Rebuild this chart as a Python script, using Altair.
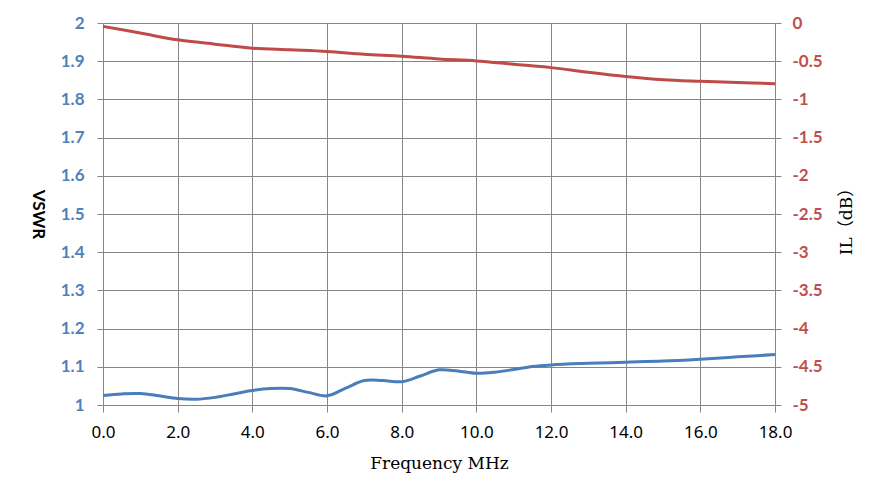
import altair as alt
import pandas as pd

# VSWR (left axis)
vswr_freq = [0, 0.5, 1, 1.5, 2, 2.5, 3, 3.5, 4, 4.5, 5, 5.5, 6, 6.5, 7, 7.5, 8, 8.5, 9,
             9.5, 10, 10.5, 11, 11.5, 12, 13, 14, 15, 16, 17, 18]
vswr_vals = [1.025, 1.029, 1.030, 1.024, 1.017, 1.015, 1.020, 1.029, 1.038, 1.043, 1.043,
             1.033, 1.024, 1.044, 1.064, 1.064, 1.061, 1.076, 1.092,
             1.089, 1.083, 1.086, 1.093, 1.101, 1.105, 1.109, 1.112, 1.115, 1.120, 1.126, 1.132]

# Insertion loss (right axis)
il_freq = list(range(0, 19))
il_vals = [-0.044, -0.132, -0.220, -0.277, -0.329, -0.351, -0.373, -0.408, -0.434, -0.470,
           -0.496, -0.540, -0.584, -0.645, -0.700, -0.742, -0.763, -0.780, -0.794]

x_ticks = [0, 2, 4, 6, 8, 10, 12, 14, 16, 18]
left_ticks = [1, 1.1, 1.2, 1.3, 1.4, 1.5, 1.6, 1.7, 1.8, 1.9, 2]
right_ticks = [0, -0.5, -1, -1.5, -2, -2.5, -3, -3.5, -4, -4.5, -5]

df_v = pd.DataFrame({"f": vswr_freq, "v": vswr_vals})
df_il = pd.DataFrame({"f": il_freq, "il": il_vals})

GRID = "#868686"
BLUE = "#4A7EBB"
RED = "#BE4B48"

x_enc = alt.X(
    "f:Q",
    scale=alt.Scale(domain=[0, 18], nice=False, zero=False),
    axis=alt.Axis(
        title="Frequency MHz",
        values=x_ticks,
        format=".1f",
        grid=True,
        gridColor=GRID,
        gridOpacity=1,
        domain=False,
        tickColor=GRID,
        tickSize=7,
        labelFlush=False,
        labelPadding=12,
        labelFont="Noto Sans",
        labelFontSize=17,
        labelColor="#000000",
        titleFont="DejaVu Serif",
        titleFontSize=17,
        titleFontWeight="normal",
        titleColor="#000000",
        titlePadding=15,
    ),
)

vswr = alt.Chart(df_v).mark_line(
    color=BLUE, strokeWidth=3, interpolate="catmull-rom"
).encode(
    x=x_enc,
    y=alt.Y(
        "v:Q",
        scale=alt.Scale(domain=[1, 2], nice=False, zero=False),
        axis=alt.Axis(
            title="VSWR",
            orient="left",
            values=left_ticks,
            labelExpr="'' + datum.value",
            grid=True,
            gridColor=GRID,
            gridOpacity=1,
            domain=False,
            tickColor=GRID,
            tickSize=6,
            labelPadding=13,
            labelFont="Lato",
            labelFontWeight="bold",
            labelFontSize=17,
            labelColor="#4F81BD",
            titleFont="Lato",
            titleFontWeight="bold",
            titleFontSize=17,
            titleColor="#000000",
            titleAngle=90,
            titleAlign="center",
            titleBaseline="middle",
            titleX=-66,
            titleY=191,
        ),
    ),
)

il = alt.Chart(df_il).mark_line(
    color=RED, strokeWidth=3, interpolate="catmull-rom"
).encode(
    x=alt.X("f:Q", scale=alt.Scale(domain=[0, 18], nice=False, zero=False)),
    y=alt.Y(
        "il:Q",
        scale=alt.Scale(domain=[-5, 0], nice=False, zero=False),
        axis=alt.Axis(
            title="IL（dB）",
            orient="right",
            values=right_ticks,
            labelExpr="'' + datum.value",
            grid=False,
            domain=False,
            tickColor=GRID,
            tickSize=6,
            labelPadding=11,
            labelFont="Lato",
            labelFontWeight="bold",
            labelFontSize=17,
            labelColor="#C0504D",
            titleFont="DejaVu Serif, Noto Sans CJK SC",
            titleFontWeight="normal",
            titleFontSize=17,
            titleColor="#000000",
            titleAngle=270,
            titleAlign="center",
            titleBaseline="middle",
            titleX=71,
            titleY=194,
        ),
    ),
)

chart = alt.layer(vswr, il).resolve_scale(y="independent").properties(
    width=672,
    height=382,
    autosize=alt.AutoSizeParams(type="none"),
    padding={"left": 95, "top": 15, "right": 95, "bottom": 90},
).configure_view(stroke=None)

chart.save("out.html", embed_options={"renderer": "svg", "actions": False})
